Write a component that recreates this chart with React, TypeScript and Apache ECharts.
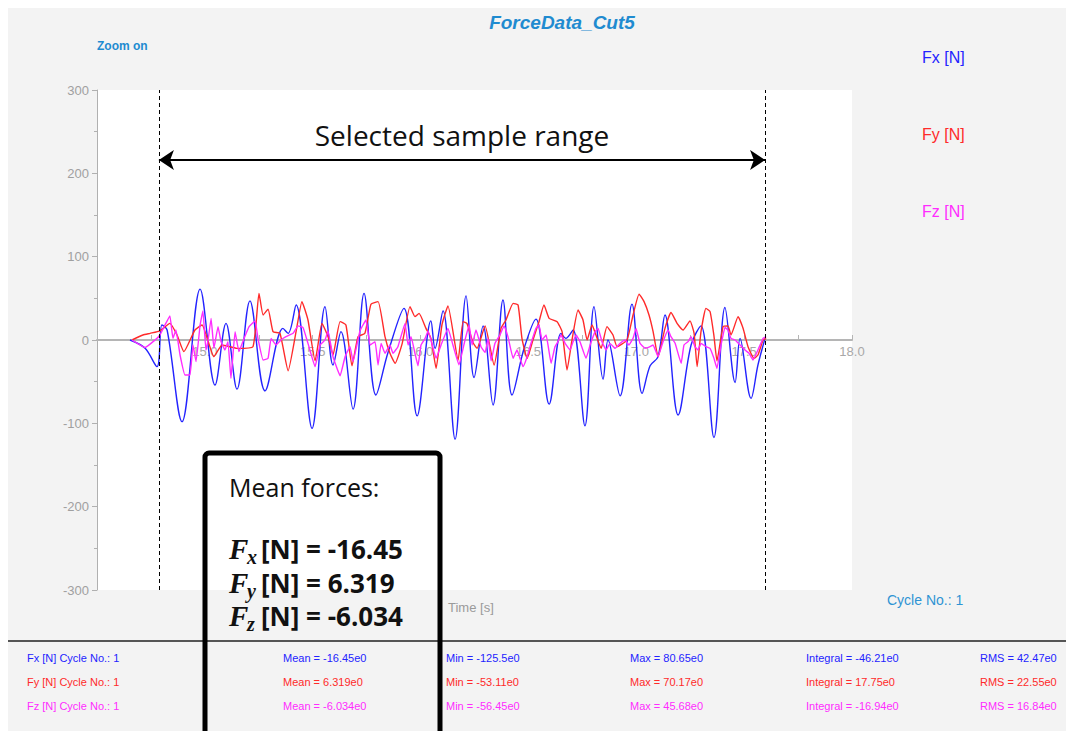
import React, { useEffect, useRef } from "react";
import * as echarts from "echarts";

// ---- Force channels (time in s, force in N) ----
const seriesNames = ["Fx [N]", "Fy [N]", "Fz [N]"];
const seriesColors = ["#2323ff", "#ff2a2a", "#ff2cff"];

const fxTime = [
  14.653, 14.723, 14.778, 14.801, 14.825, 14.894, 14.978, 15.047, 15.098, 15.149,
  15.209, 15.279, 15.362, 15.386, 15.423, 15.497, 15.557, 15.594, 15.631, 15.687,
  15.738, 15.793, 15.849, 15.923, 15.984, 16.048, 16.067, 16.104, 16.16, 16.211,
  16.248, 16.29, 16.336, 16.382, 16.424, 16.48, 16.535, 16.596, 16.651, 16.674,
  16.707, 16.762, 16.804, 16.846, 16.869, 16.925, 16.98, 17.027, 17.064, 17.101,
  17.133, 17.194, 17.254, 17.3, 17.36, 17.411, 17.458, 17.481, 17.532, 17.564, 17.597,
];
const fxValue = [
  0, -10, -32, 18, 12, -98, 61, -54, 20, -59,
  47, -61, 14, 8, 42, -106, 40, -30, 10, -83,
  56, -66, -15, 38, -91, 23, -10, 35, -119, 53,
  -45, 17, -78, 48, -66, -10, 25, -77, 8, 2,
  12, -103, 40, -47, 0, -67, 43, -64, -31, -20,
  30, -90, -6, 17, -117, 39, -51, 2, -70, -30, 2,
];

const fyTime = [
  14.662, 14.713, 14.746, 14.792, 14.838, 14.871, 14.903, 14.954, 14.987, 15.042,
  15.08, 15.149, 15.223, 15.251, 15.27, 15.293, 15.316, 15.348, 15.386, 15.427,
  15.45, 15.478, 15.511, 15.543, 15.571, 15.594, 15.627, 15.654, 15.682, 15.71,
  15.742, 15.77, 15.803, 15.835, 15.858, 15.882, 15.914, 15.951, 15.974, 15.993,
  16.025, 16.048, 16.072, 16.099, 16.127, 16.174, 16.197, 16.215, 16.243, 16.262,
  16.299, 16.341, 16.373, 16.396, 16.429, 16.452, 16.47, 16.494, 16.521, 16.549,
  16.572, 16.596, 16.633, 16.656, 16.679, 16.702, 16.73, 16.753, 16.772, 16.795,
  16.813, 16.837, 16.864, 16.892, 16.911, 16.957, 16.985, 17.013, 17.036, 17.059,
  17.078, 17.101, 17.133, 17.161, 17.189, 17.217, 17.249, 17.268, 17.282, 17.3,
  17.323, 17.342, 17.36, 17.374, 17.402, 17.425, 17.439, 17.472, 17.495, 17.518,
  17.546, 17.564, 17.588, 17.602,
];
const fyValue = [
  0, 6, 8, 11, 20, 6, -14, 12, 18, -20,
  -6, -10, -8, 56, 30, 37, 10, 8, -37, 16,
  46, 24, -25, 20, 4, -18, 22, 18, -31, 4,
  8, 43, 46, 4, -16, -28, -5, 40, 28, 32,
  14, 2, -34, 18, 41, -24, 22, 20, -3, -10,
  17, -30, 14, 24, 44, 42, 2, -22, 0, 22,
  42, 26, 22, 10, -36, 0, 36, 24, 0, 18,
  6, -10, 16, 6, -8, 0, 30, 55, 46, 30,
  10, -20, 14, 33, 20, 12, 23, 8, -32, 10,
  38, 34, 5, -25, 16, 17, 6, 28, 14, -8,
  -22, -18, 0, 2,
];

const fzTime = [
  14.662, 14.723, 14.769, 14.792, 14.815, 14.838, 14.852, 14.866, 14.885, 14.908,
  14.931, 14.945, 14.959, 14.978, 14.991, 15.005, 15.015, 15.029, 15.042, 15.061,
  15.075, 15.093, 15.107, 15.121, 15.14, 15.158, 15.182, 15.205, 15.233, 15.246,
  15.27, 15.293, 15.307, 15.33, 15.353, 15.376, 15.409, 15.432, 15.455, 15.478,
  15.511, 15.534, 15.557, 15.571, 15.594, 15.627, 15.65, 15.673, 15.687, 15.719,
  15.747, 15.766, 15.789, 15.803, 15.817, 15.835, 15.858, 15.872, 15.895, 15.928,
  15.942, 15.956, 15.974, 15.988, 16.002, 16.021, 16.035, 16.058, 16.072, 16.095,
  16.127, 16.15, 16.178, 16.206, 16.225, 16.239, 16.257, 16.28, 16.299, 16.313,
  16.327, 16.345, 16.368, 16.387, 16.405, 16.429, 16.447, 16.475, 16.494, 16.512,
  16.535, 16.549, 16.563, 16.582, 16.605, 16.623, 16.637, 16.651, 16.67, 16.693,
  16.707, 16.721, 16.739, 16.767, 16.786, 16.809, 16.823, 16.841, 16.86, 16.878,
  16.902, 16.925, 16.948, 16.966, 16.985, 16.999, 17.017, 17.041, 17.064, 17.078,
  17.101, 17.124, 17.147, 17.161, 17.18, 17.208, 17.221, 17.24, 17.254, 17.272,
  17.286, 17.3, 17.323, 17.342, 17.36, 17.374, 17.393, 17.411, 17.425, 17.439,
  17.458, 17.481, 17.504, 17.523, 17.541, 17.564, 17.588, 17.602,
];
const fzValue = [
  0, -9, 0, 6, 18, 29, 2, 12, -18, -42,
  -42, -6, -26, 18, 35, -12, 0, 26, -10, 16,
  -2, -12, -2, -46, 10, -14, 2, 16, 23, 2,
  -24, -22, 2, -6, 0, 4, 8, 17, 15, -4,
  -32, -6, 0, 11, -20, -43, -20, -8, -26, 11,
  24, -6, -2, -30, -4, -16, -6, -16, -8, 20,
  -6, 4, -16, -31, -6, 2, 11, -10, -22, -6,
  14, -6, -30, 0, 18, -6, 12, -8, -15, 2,
  -25, -4, 6, 17, 4, -22, -12, -32, -20, -4,
  14, 18, 0, 6, -28, -8, -2, 6, -4, -12,
  -2, 6, -2, -22, -6, 10, 14, -2, -12, -4,
  -10, -4, 0, -6, 2, 14, -4, -10, -8, -6,
  -20, -2, 12, 4, -4, -28, -6, -2, 4, -8,
  -12, -4, -8, -10, -22, -34, -6, 15, 12, 2,
  0, -6, -12, -16, -24, -12, 2, 4,
];

// Selected sample range (s) and the level (N) of the range arrow
const selectionStart = 14.787;
const selectionEnd = 17.597;
const arrowLevel = 216;

// Per-channel statistics for cycle 1
const statMean = [-16.45, 6.319, -6.034];
const statMin = [-125.5, -53.11, -56.45];
const statMax = [80.65, 70.17, 45.68];
const statIntegral = [-46.21, 17.75, -16.94];
const statRms = [42.47, 22.55, 16.84];
const cycleNo = 1;

const subscripts = ["x", "y", "z"];

const pair = (t: number[], v: number[]) => t.map((x, i) => [x, v[i]]);

export default function App() {
  const ref = useRef<HTMLDivElement>(null);

  useEffect(() => {
    if (!ref.current) return;
    const chart = echarts.init(ref.current, null, { renderer: "svg" });

    const sans = "'Liberation Sans', Arial, sans-serif";
    const narrow = "'Liberation Sans Narrow', 'Liberation Sans', Arial, sans-serif";
    const note = "'Open Sans', Lato, sans-serif";
    const serifMath = "'Liberation Serif', 'DejaVu Serif', serif";
    const accent = "#1f8bd0";

    const gridLeft = 89;
    const gridTop = 82;
    const gridWidth = 755;
    const gridHeight = 500;
    const yMin = -300;
    const yMax = 300;
    // distance from the grid bottom up to the zero force level
    const zeroOffset = (gridHeight * (0 - yMin)) / (yMax - yMin);

    const graphics: any[] = [];

    // title and header texts
    graphics.push({
      type: "text", x: 554, y: 14,
      style: {
        text: "ForceData_Cut5", font: `italic bold 19px ${sans}`, fill: accent,
        textAlign: "center", textVerticalAlign: "middle",
      },
    });
    graphics.push({
      type: "text", x: 89, y: 38,
      style: { text: "Zoom on", font: `bold 12px ${narrow}`, fill: accent, textVerticalAlign: "middle" },
    });

    // series names at the right
    seriesNames.forEach((n, i) => {
      graphics.push({
        type: "text", x: 914, y: 49 + i * 77,
        style: { text: n, font: `16px ${sans}`, fill: seriesColors[i], textVerticalAlign: "middle" },
      });
    });

    graphics.push({
      type: "text", x: 440, y: 599,
      style: { text: "Time [s]", font: `13px ${sans}`, fill: "#9a9a9a", textVerticalAlign: "middle" },
    });
    graphics.push({
      type: "text", x: 879, y: 592,
      style: { text: `Cycle No.: ${cycleNo}`, font: `14px ${sans}`, fill: "#2f93d3", textVerticalAlign: "middle" },
    });

    // separator above the statistics table
    graphics.push({
      type: "line", shape: { x1: 0, y1: 633, x2: 1058, y2: 633 },
      style: { stroke: "#555", lineWidth: 2 },
    });

    // statistics table
    const colX = [19, 275, 438, 622, 798, 972];
    seriesNames.forEach((n, i) => {
      const y = 650 + i * 24;
      const cells = [
        `${n} Cycle No.: ${cycleNo}`,
        `Mean = ${statMean[i]}e0`,
        `Min = ${statMin[i]}e0`,
        `Max = ${statMax[i]}e0`,
        `Integral = ${statIntegral[i]}e0`,
        `RMS = ${statRms[i]}e0`,
      ];
      cells.forEach((c, j) => {
        graphics.push({
          type: "text", x: colX[j], y,
          style: { text: c, font: `11px ${sans}`, fill: seriesColors[i], textVerticalAlign: "middle" },
        });
      });
    });

    // mean-forces frame
    graphics.push({
      type: "rect", z: 50,
      shape: { x: 197, y: 445, width: 235, height: 300, r: 4 },
      style: { fill: "none", stroke: "#000", lineWidth: 5 },
    });
    graphics.push({
      type: "text", z: 51, x: 221, y: 479,
      style: { text: "Mean forces:", font: `25px ${note}`, fill: "#111", textVerticalAlign: "middle" },
    });
    subscripts.forEach((s, i) => {
      const y = 541 + i * 33.5;
      graphics.push({
        type: "text", z: 51, x: 221, y,
        style: { text: "F", font: `italic bold 29px ${serifMath}`, fill: "#111", textVerticalAlign: "middle" },
      });
      graphics.push({
        type: "text", z: 51, x: 239, y: y + 8,
        style: { text: s, font: `italic bold 20px ${serifMath}`, fill: "#111", textVerticalAlign: "middle" },
      });
      graphics.push({
        type: "text", z: 51, x: 253, y,
        style: { text: `[N] = ${statMean[i]}`, font: `bold 26px ${note}`, fill: "#111", textVerticalAlign: "middle" },
      });
    });

    const lineSeries = (i: number, data: number[][], smooth: number, extra: any = {}) => ({
      type: "line",
      name: seriesNames[i],
      data,
      showSymbol: false,
      smooth,
      lineStyle: { color: seriesColors[i], width: 1.4 },
      itemStyle: { color: seriesColors[i] },
      silent: true,
      z: 2 + i,
      ...extra,
    });

    chart.setOption({
      animation: false,
      backgroundColor: "#f3f3f3",
      grid: {
        left: gridLeft, top: gridTop, width: gridWidth, height: gridHeight,
        show: true, backgroundColor: "#ffffff", borderWidth: 0,
      },
      xAxis: {
        type: "value", min: 14.5, max: 18, interval: 0.5,
        offset: -zeroOffset,
        axisLine: { onZero: false, lineStyle: { color: "#b5b5b5", width: 2 } },
        axisTick: { show: true, inside: true, length: 5, lineStyle: { color: "#b5b5b5" } },
        minorTick: { show: true, splitNumber: 2, length: 5, lineStyle: { color: "#b5b5b5" } },
        axisLabel: {
          color: "#a8a8a8", fontSize: 13, fontFamily: sans, margin: 5,
          showMinLabel: false,
          formatter: (v: number) => v.toFixed(1),
        },
        splitLine: { show: false },
      },
      yAxis: {
        type: "value", min: yMin, max: yMax, interval: 100,
        axisLine: { show: true, onZero: false, lineStyle: { color: "#b0b0b0", width: 1 } },
        axisTick: { show: true, length: 5, lineStyle: { color: "#b0b0b0" } },
        minorTick: { show: true, splitNumber: 2, length: 3, lineStyle: { color: "#b0b0b0" } },
        axisLabel: { color: "#a0a0a0", fontSize: 13, fontFamily: narrow, margin: 8 },
        splitLine: { show: false },
      },
      series: [
        lineSeries(0, pair(fxTime, fxValue), 0.35),
        lineSeries(1, pair(fyTime, fyValue), 0.15),
        lineSeries(2, pair(fzTime, fzValue), 0.1, {
          markLine: {
            silent: true,
            animation: false,
            symbol: "none",
            data: [
              {
                xAxis: selectionStart,
                lineStyle: { color: "#000", type: [4, 3], width: 1 },
                label: { show: false },
              },
              {
                xAxis: selectionEnd,
                lineStyle: { color: "#000", type: [4, 3], width: 1 },
                label: { show: false },
              },
              [
                { coord: [selectionStart, arrowLevel], symbol: "arrow", symbolSize: 15 },
                {
                  coord: [selectionEnd, arrowLevel], symbol: "arrow", symbolSize: 15,
                  lineStyle: { color: "#000", type: "solid", width: 2 },
                  label: {
                    show: true, position: "middle", distance: 11,
                    formatter: "Selected sample range",
                    color: "#111", fontSize: 28, fontFamily: note,
                  },
                },
              ],
            ],
          },
        }),
      ],
      graphic: graphics,
    });

    return () => chart.dispose();
  }, []);

  return (
    <div
      ref={ref}
      style={{ position: "absolute", left: 8, top: 8, width: 1058, height: 723 }}
    />
  );
}
